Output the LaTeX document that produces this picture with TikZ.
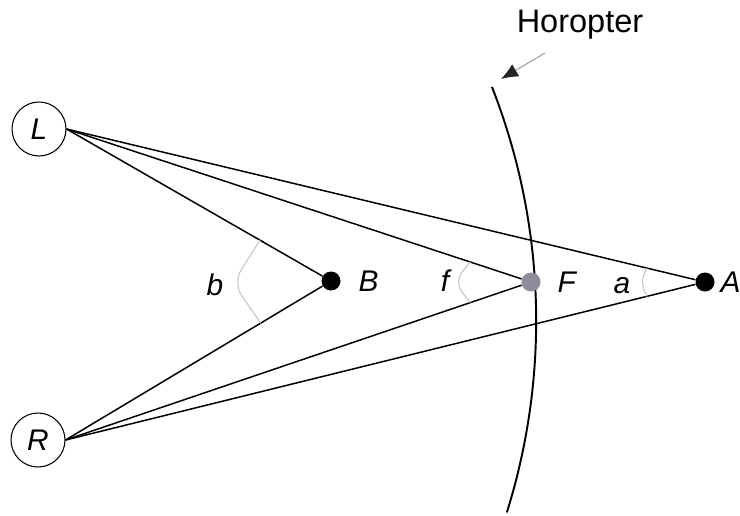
\documentclass[tikz,border=0pt]{standalone}
\usepackage{fontspec}
\setmainfont{Liberation Sans}
\usetikzlibrary{positioning,arrows.meta,calc}
\definecolor{fixCol}{HTML}{8C8C9A}
\definecolor{angCol}{HTML}{C4C4C4}
\definecolor{ptrCol}{HTML}{A0A0A0}

\begin{document}
\begin{tikzpicture}[
    x=0.02cm, y=-0.02cm,
    font=\fontsize{17}{20}\selectfont,
    eye/.style={circle, draw, line width=0.6pt, minimum size=1.08cm, inner sep=0pt,
      font=\fontsize{17}{20}\selectfont\itshape},
    dot/.style={circle, fill=black, minimum size=0.38cm, inner sep=0pt},
    lbl/.style={inner sep=0pt, font=\fontsize{17}{20}\selectfont\itshape},
    ray/.style={line width=0.85pt},
    ang/.style={draw=angCol, line width=0.6pt},
    horopter/.style={line width=1.1pt},
    pointer/.style={-{Latex[length=3.4mm,width=2.8mm,color=black!85]}, draw=ptrCol, line width=0.6pt},
  ]
\useasboundingbox (0,0) rectangle (740,515);

% Horopter curve
\draw[horopter] plot[domain=-17.4:21.4, samples=40, smooth]
  ({-104.7+640.9*cos(\x)},{320.8-640.9*sin(\x)});

% Eyes
\node[eye] (L) at (39,129) {L};
\node[eye] (R) at (38,440) {R};

% Points
\node[dot] (B) at (331,281) {};
\node[dot, fill=fixCol] (F) at (531,282) {};
\node[dot] (A) at (705,282) {};

% Rays from each eye
\foreach \p in {B,F,A} {
  \draw[ray] (L.east) -- (\p);
  \draw[ray] (R.east) -- (\p);
}

% Angles
\draw[ang, rounded corners=0.3cm] ($(B)!1.64cm!(L.east)$) -- ($(B)+(-98,2)$) -- ($(B)!1.64cm!(R.east)$);
\draw[ang, rounded corners=0.25cm] ($(F)!1.28cm!(L.east)$) -- ($(F)+(-77,0)$) -- ($(F)!1.28cm!(R.east)$);
\draw[ang, rounded corners=0.15cm] ($(A)!1.2cm!(L.east)$) -- ($(A)+(-64,0)$) -- ($(A)!1.2cm!(R.east)$);

% Labels
\node[lbl] (blbl) at (215,285) {b};
\node[lbl] (flbl) at (445,281) {f};
\node[lbl] (albl) at (622,286) {a};
\node[lbl, right=0.35cm of B] (Blbl) {B};
\node[lbl, right=0.33cm of F] (Flbl) {F};
\node[lbl, right=0.11cm of A] (Albl) {A};

% Horopter tag
\node[font=\fontsize{18.5}{22}\selectfont] (horlbl) at (580,25) {Horopter};
\coordinate (hortail) at (545,53);
\coordinate (hortip) at (501,79);
\draw[pointer] (hortail) -- (hortip);

\end{tikzpicture}
\end{document}
